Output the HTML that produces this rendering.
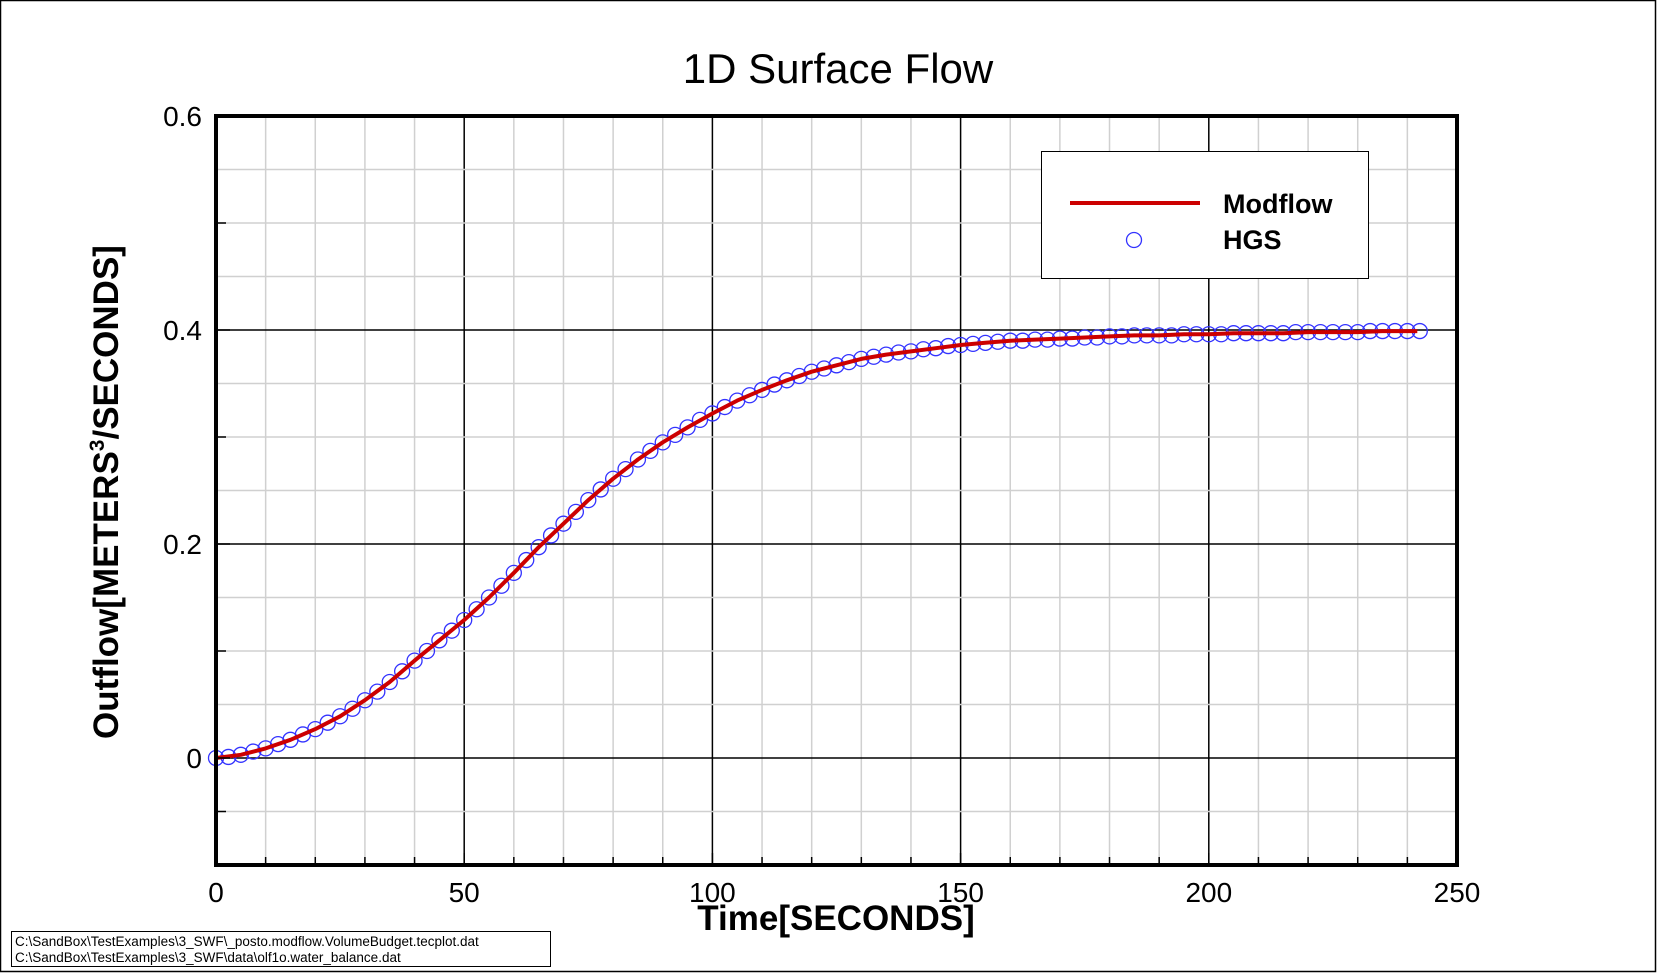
<!DOCTYPE html>
<html><head><meta charset="utf-8"><style>
html,body{margin:0;padding:0;background:#fff;}
svg{display:block;font-family:"Liberation Sans",Arial,sans-serif;}
</style></head><body>
<svg id="chart" width="1657" height="973" viewBox="0 0 1657 973" xmlns="http://www.w3.org/2000/svg">
<rect x="0.5" y="0.5" width="1655" height="971" fill="#fff" stroke="#000" stroke-width="1.5"/>
<text x="838" y="83" font-size="42" text-anchor="middle">1D Surface Flow</text>
<g id="grid"></g>
<g id="series"></g>
<g id="axes"></g>
<text x="836" y="930" font-size="35" font-weight="bold" text-anchor="middle">Time[SECONDS]</text>
<text transform="translate(118,492) rotate(-90)" font-size="35" font-weight="bold" text-anchor="middle">Outflow[METERS<tspan font-size="21" dy="-14">3</tspan><tspan dy="14">/SECONDS]</tspan></text>
<g>
<rect x="1041.5" y="151.5" width="327" height="127" fill="#fff" stroke="#000" stroke-width="1"/>
<line x1="1070" y1="203" x2="1200" y2="203" stroke="#cc0000" stroke-width="4"/>
<text x="1223" y="213" font-size="27" font-weight="bold">Modflow</text>
<circle cx="1134" cy="240" r="7.5" fill="none" stroke="#3333ff" stroke-width="1.3"/>
<text x="1223" y="249" font-size="27" font-weight="bold">HGS</text>
</g>
<g>
<rect x="11.5" y="931.5" width="539" height="35" fill="#fff" stroke="#000" stroke-width="1"/>
<text x="15" y="946" font-size="13.5">C:\SandBox\TestExamples\3_SWF\_posto.modflow.VolumeBudget.tecplot.dat</text>
<text x="15" y="962" font-size="13.5">C:\SandBox\TestExamples\3_SWF\data\olf1o.water_balance.dat</text>
</g>
</svg>
<script>
const xTicks=[0,50,100,150,200,250];
const yTicks=[0,0.2,0.4,0.6];
const yTickLabels=["0","0.2","0.4","0.6"];
const modflowTime=[0,5,10,15,20,25,30,35,40,45,50,55,60,65,70,75,80,85,90,95,100,105,110,115,120,125,130,135,140,145,150,155,160,165,170,175,180,185,190,195,200,205,210,215,220,225,230,235,240,242];
const modflowValue=[0,0.003,0.009,0.017,0.027,0.039,0.054,0.071,0.091,0.110,0.129,0.150,0.173,0.197,0.219,0.241,0.261,0.279,0.295,0.309,0.322,0.334,0.344,0.353,0.361,0.367,0.373,0.377,0.380,0.383,0.386,0.388,0.390,0.391,0.392,0.393,0.394,0.395,0.395,0.396,0.396,0.397,0.397,0.397,0.398,0.398,0.398,0.399,0.399,0.399];
const hgsTime=[0,2.5,5,7.5,10,12.5,15,17.5,20,22.5,25,27.5,30,32.5,35,37.5,40,42.5,45,47.5,50,52.5,55,57.5,60,62.5,65,67.5,70,72.5,75,77.5,80,82.5,85,87.5,90,92.5,95,97.5,100,102.5,105,107.5,110,112.5,115,117.5,120,122.5,125,127.5,130,132.5,135,137.5,140,142.5,145,147.5,150,152.5,155,157.5,160,162.5,165,167.5,170,172.5,175,177.5,180,182.5,185,187.5,190,192.5,195,197.5,200,202.5,205,207.5,210,212.5,215,217.5,220,222.5,225,227.5,230,232.5,235,237.5,240,242.5];
const hgsValue=[0,0.001,0.003,0.006,0.009,0.013,0.017,0.022,0.027,0.033,0.039,0.046,0.054,0.062,0.071,0.081,0.091,0.100,0.110,0.119,0.129,0.139,0.150,0.161,0.173,0.185,0.197,0.208,0.219,0.230,0.241,0.251,0.261,0.270,0.279,0.287,0.295,0.302,0.309,0.316,0.322,0.328,0.334,0.339,0.344,0.349,0.353,0.357,0.361,0.364,0.367,0.370,0.373,0.375,0.377,0.379,0.380,0.382,0.383,0.385,0.386,0.387,0.388,0.389,0.390,0.390,0.391,0.391,0.392,0.392,0.393,0.393,0.394,0.394,0.395,0.395,0.395,0.395,0.396,0.396,0.396,0.396,0.397,0.397,0.397,0.397,0.397,0.398,0.398,0.398,0.398,0.398,0.398,0.399,0.399,0.399,0.399,0.399];

const NS="http://www.w3.org/2000/svg";
const L=216,R=1457,T=116,B=865;
const xMin=0,xMax=250,yMin=-0.1,yMax=0.6;
function sx(v){return L+(v-xMin)/(xMax-xMin)*(R-L);}
function sy(v){return B-(v-yMin)/(yMax-yMin)*(B-T);}
function mk(tag,attrs,parent){const e=document.createElementNS(NS,tag);for(const k in attrs)e.setAttribute(k,attrs[k]);parent.appendChild(e);return e;}
const grid=document.getElementById('grid'),axes=document.getElementById('axes'),series=document.getElementById('series');

for(let v=10;v<250;v+=10){
  const major=v%50===0;
  const e=mk('line',{x1:sx(v),x2:sx(v),y1:T,y2:B,stroke:major?'#000':'#d0d0d0','stroke-width':1.5},grid);
  
  
  const t=mk('line',{x1:sx(v),x2:sx(v),y1:B,y2:B-(major?12:8),stroke:'#000','stroke-width':1.5},axes);
  
  
}
for(let i=-1;i<12;i++){
  const v=i*0.05;
  const major=(i%4===0);
  const e=mk('line',{x1:L,x2:R,y1:sy(v),y2:sy(v),stroke:major?'#000':'#d0d0d0','stroke-width':1.5},grid);
  
  
  if(i%2===0 || i===-1){
    const t=mk('line',{x1:L,x2:L+(i%4===0?14:10),y1:sy(v),y2:sy(v),stroke:'#000','stroke-width':1.5},axes);
    
    
  }
}
const frame=mk('rect',{x:L,y:T,width:R-L,height:B-T,fill:'none',stroke:'#000','stroke-width':4},axes);


xTicks.forEach(v=>{
  const t=mk('text',{x:sx(v),y:B+37,'font-size':28,'text-anchor':'middle'},axes);
  t.textContent=String(v);
  
  
});
yTicks.forEach((v,i)=>{
  const t=mk('text',{x:L-14,y:sy(v)+10,'font-size':28,'text-anchor':'end'},axes);
  t.textContent=yTickLabels[i];
  
  
});

hgsTime.forEach((t,i)=>{
  const c=mk('circle',{cx:sx(t),cy:sy(hgsValue[i]),r:7.5,fill:'none',stroke:'#3333ff','stroke-width':1.3},series);
  
  
});
const d=modflowTime.map((t,i)=>(i?'L':'M')+sx(t).toFixed(1)+','+sy(modflowValue[i]).toFixed(1)).join(' ');
const p=mk('path',{d:d,fill:'none',stroke:'#cc0000','stroke-width':4,'stroke-linejoin':'round'},series);


</script>
</body></html>
